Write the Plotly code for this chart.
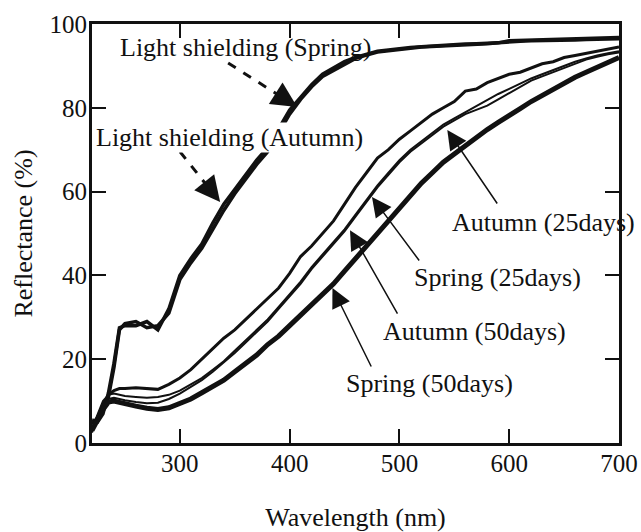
import plotly.graph_objects as go

# ---- data ----
wavelength = [220, 225, 230, 235, 240, 245, 250, 260, 270, 280, 290, 300, 310, 320, 330, 340,
              350, 360, 370, 380, 390, 400, 410, 420, 430, 440, 450, 460, 470, 480, 490, 500,
              510, 520, 530, 540, 550, 560, 570, 580, 590, 600, 610, 620, 630, 640, 650, 660,
              670, 680, 690, 700]

shield_spring = [4.5, 6, 9, 11, 18, 27, 28.5, 29, 27.5, 28, 31, 39, 43, 46.5, 51, 55.5,
                 59.5, 63, 66.5, 69.5, 74, 78.5, 82, 85, 87.5, 89, 90.5, 91.8, 92.6, 93.3, 93.6, 94,
                 94.2, 94.5, 94.6, 94.8, 95, 95.1, 95.2, 95.3, 95.5, 95.8, 95.9, 96, 96, 96.1, 96.2, 96.2,
                 96.3, 96.4, 96.4, 96.5]

shield_autumn = [5.5, 5, 7, 12, 19, 27.5, 28, 28, 29, 27, 32, 40, 44, 47.5, 52.5, 57,
                 60.5, 64, 67.5, 70.5, 75, 79.5, 82.5, 85.5, 88, 89.5, 91, 92, 92.8, 93.5, 93.8, 94.2,
                 94.4, 94.6, 94.8, 95, 95.1, 95.2, 95.3, 95.4, 95.5, 96, 96.1, 96.2, 96.3, 96.3, 96.4, 96.5,
                 96.5, 96.6, 96.7, 96.8]

curve_a = [3, 6, 9, 11.5, 12.5, 13, 13, 13.2, 13, 12.8, 14, 15.5, 17.5, 20, 22.5, 25,
           27, 29.5, 32, 34.5, 37, 40.5, 44.5, 47, 50, 53, 57, 61, 64.5, 68, 70, 72.5,
           74.5, 76.5, 78.5, 80, 81.5, 84, 84.5, 86, 87, 88, 88.5, 89.5, 90.5, 91, 92, 92.5,
           93, 93.5, 94, 94.5]

curve_b = [3.5, 7, 10, 11.5, 11.8, 11.5, 11.2, 11, 10.8, 11, 11.5, 12.5, 14, 15.5, 17.5, 19.5,
           22, 24.5, 27, 29.5, 32.5, 35.5, 38.5, 42, 45, 48, 51, 54.5, 58, 61.5, 64.5, 67.5,
           70, 72, 74, 76, 77.5, 79, 80.5, 82, 83.3, 84.5, 85.8, 87, 88, 89, 90, 91,
           91.8, 92.5, 93, 93.5]

curve_c = [2.5, 6, 9, 10.5, 10.8, 10.5, 10.2, 9.8, 9.5, 9.6, 10.5, 11.8, 13.3, 15, 17, 19.2,
           21.5, 24, 26.5, 29, 32, 35, 38, 41.5, 44.5, 47.5, 50.5, 54, 57.5, 61, 64, 67,
           69.5, 71.5, 73.5, 75.5, 77, 78.5, 79.5, 80.5, 82, 83.5, 85, 86.5, 87.5, 88.5, 89.5, 90.5,
           91.5, 92.2, 92.8, 93.2]

curve_d = [3, 5.5, 8, 9.8, 10, 9.7, 9.3, 8.8, 8.3, 8, 8.4, 9.3, 10.5, 12, 13.5, 15,
           17, 19, 21, 23.5, 25.5, 28, 30.5, 33, 35.5, 38, 41, 44, 47, 50, 53, 56,
           59, 62, 64.5, 67, 69, 71, 73, 74.8, 76.5, 78, 79.8, 81.5, 83, 84.5, 86, 87.3,
           88.5, 89.7, 91, 92]

x_ticks = [300, 400, 500, 600, 700]
y_ticks = [0, 20, 40, 60, 80, 100]

# ---- figure ----
FONT = "Liberation Serif"
INK = "#111111"
fig = go.Figure()

series = [
    ("Light shielding (Spring)", shield_spring, 3.5),
    ("Light shielding (Autumn)", shield_autumn, 3.5),
    ("Curve A", curve_a, 3),
    ("Curve B", curve_b, 2),
    ("Curve C", curve_c, 2),
    ("Curve D", curve_d, 5),
]
for name, ys, w in series:
    fig.add_trace(go.Scatter(x=wavelength, y=ys, mode="lines", name=name,
                             line=dict(color=INK, width=w), showlegend=False))

annotations = []
labels = [
    ("Light shielding (Spring)", 359.5, 94.3, None),
    ("Light shielding (Autumn)", 344.9, 72.8, "white"),
    ("Autumn (25days)", 631, 52.7, None),
    ("Spring (25days)", 589.2, 39.6, None),
    ("Autumn (50days)", 568.2, 26.5, None),
    ("Spring (50days)", 527.2, 14.3, None),
]
for t, x, y, bg in labels:
    a = dict(text=t, x=x, y=y, xref="x", yref="y", showarrow=False,
             font=dict(family=FONT, size=26, color=INK),
             xanchor="center", yanchor="middle", borderpad=0)
    if bg:
        a["bgcolor"] = bg
    annotations.append(a)

arrows = [
    ((543.6, 74.7), (590, 56.8)),
    ((475, 58.7), (519, 43.2)),
    ((455, 50.8), (499, 30.5)),
    ((439, 37), (475, 17.9)),
]
for (tx, ty), (sx, sy) in arrows:
    annotations.append(dict(text="", x=tx, y=ty, xref="x", yref="y",
                            ax=sx, ay=sy, axref="x", ayref="y", showarrow=True,
                            arrowhead=2, arrowsize=2.6, arrowwidth=1.5, arrowcolor=INK))

dashed = [
    ((344, 90.7), (406.9, 80.2), (-13.5, -8.6)),
    ((300.2, 69.5), (336.7, 57.5), (-10, -12.5)),
]
shapes = []
for (sx, sy), (tx, ty), (hx, hy) in dashed:
    shapes.append(dict(type="line", xref="x", yref="y", x0=sx, y0=sy,
                       x1=sx + (tx - sx) * 0.85, y1=sy + (ty - sy) * 0.85,
                       line=dict(color=INK, width=3, dash="dash")))
    annotations.append(dict(text="", x=tx, y=ty, xref="x", yref="y",
                            ax=hx, ay=hy, showarrow=True,
                            arrowhead=2, arrowsize=1.7, arrowwidth=3, arrowcolor=INK))

axis_common = dict(showline=True, linewidth=3, linecolor=INK, mirror="ticks",
                   ticks="inside", ticklen=14, tickwidth=2, tickcolor=INK,
                   showgrid=False, zeroline=False, automargin=False,
                   tickfont=dict(family=FONT, size=25, color=INK))

fig.update_layout(
    width=641, height=532,
    margin=dict(l=92, r=22, t=24, b=89),
    paper_bgcolor="white", plot_bgcolor="white",
    annotations=annotations, shapes=shapes,
    xaxis=dict(range=[220, 700], tickvals=x_ticks, ticklabelstandoff=-4,
               title=dict(text="Wavelength (nm)", font=dict(family=FONT, size=26, color=INK),
                          standoff=42),
               **axis_common),
    yaxis=dict(range=[0, 100], tickvals=y_ticks, ticklabelstandoff=-3,
               title=dict(text="Reflectance (%)", font=dict(family=FONT, size=26, color=INK),
                          standoff=10),
               **axis_common),
)

fig.write_html("out.html")
